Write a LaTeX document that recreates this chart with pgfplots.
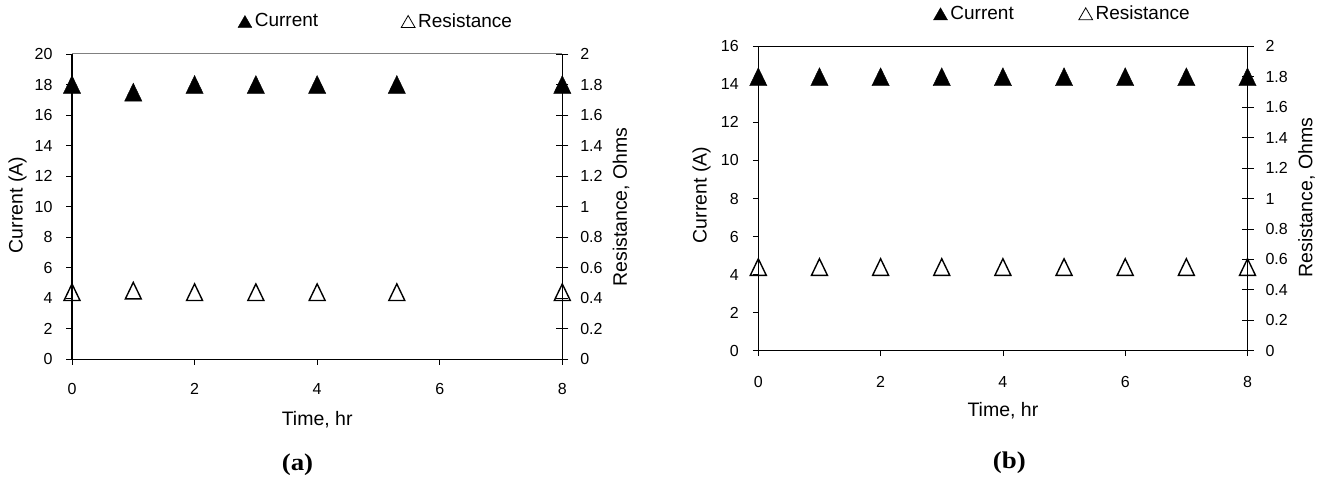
\documentclass[border=0pt]{standalone}
\usepackage{pgfplots}
\pgfplotsset{compat=1.18}
\usepackage{fontspec}
\setmainfont{Liberation Sans}
\newfontfamily\seriffont{Liberation Serif}

\pgfplotsset{
  base/.style={
    scale only axis, clip=false,
    font=\fontsize{16}{19}\selectfont,
    /pgf/number format/assume math mode=true,
    xmin=0, xmax=8,
    axis line style={black, line width=1.3pt, -},
    tick style={black, line width=0.8pt},
    label style={font=\fontsize{19.5}{23}\selectfont},
  },
  leftax/.style={
    base,
    axis x line*=bottom, axis y line*=left,
    tick align=outside,
    major tick length=5.5pt,
    xtick={0,2,4,6,8},
    yticklabel style={xshift=-10.5pt},
    xlabel={Time, hr},
    xlabel style={at={(axis description cs:0.5,-0.199)}, anchor=center},
  },
  rightax/.style={
    base,
    axis y line*=right, axis x line*=top,
    xtick=\empty,
    ymin=0, ymax=2,
    ytick={0,0.2,0.4,0.6,0.8,1,1.2,1.4,1.6,1.8,2},
    tick align=center, major tick length=12pt,
    yticklabel style={xshift=8.5pt},
    legend columns=2,
    legend style={draw=none, fill=none, font=\fontsize{19}{23}\selectfont,
      inner sep=0pt, outer sep=0pt, nodes={inner sep=1pt},
      /tikz/every odd column/.append style={column sep=2pt}},
    legend cell align=left,
    legend image code/.code={\draw[#1] plot coordinates {(7pt,-2.5pt)};},
  },
  curr/.style={only marks, mark=triangle*, mark size=10pt,
    mark options={black, fill=black, yshift=-3pt, yscale=1.2}},
  res/.style={only marks, mark=triangle, mark size=9.2pt,
    mark options={black, line width=1.4pt, fill=none, yshift=-2.8pt, yscale=1.2}},
  legc/.style={mark=triangle*, mark size=8pt, black, fill=black},
  legr/.style={mark=triangle, mark size=8pt, black, line width=0.8pt},
}

\begin{document}
\begin{tikzpicture}
\useasboundingbox (0,0) rectangle (1320pt,480pt);

% ---------- panel (a) ----------
\begin{axis}[leftax, at={(72pt,120.7pt)}, anchor=south west, width=490.3pt, height=305.3pt,
  ymin=0, ymax=20, ytick={0,2,4,6,8,10,12,14,16,18,20},
  xticklabel style={yshift=-15.2pt},
  ylabel={Current (A)},
  ylabel style={at={(axis description cs:-0.1112,0.505)}, anchor=center}]
  \addplot[curr] coordinates {(0,18) (1,17.5) (2,18) (3,18) (4,18) (5.3,18) (8,18)};
\end{axis}
\begin{axis}[rightax, at={(72pt,120.7pt)}, anchor=south west, width=490.3pt, height=305.3pt,
  x axis line style={black!50, line width=1pt},
  ylabel={Resistance, Ohms},
  ylabel style={at={(axis description cs:1.1197,0.499)}, anchor=center},
  legend style={at={(axis description cs:0.3386,1.108)}, anchor=west,
    /tikz/every even column/.append style={column sep=82pt}}]
  \addlegendimage{legc}
  \addlegendentry{Current}
  \addlegendimage{legr}
  \addlegendentry{Resistance}
  \addplot[res, forget plot] coordinates {(0,0.44) (1,0.45) (2,0.44) (3,0.44) (4,0.44) (5.3,0.44) (8,0.44)};
\end{axis}

% ---------- panel (b) ----------
\begin{axis}[leftax, at={(758.3pt,129.3pt)}, anchor=south west, width=489.2pt, height=304.4pt,
  ymin=0, ymax=16, ytick={0,2,4,6,8,10,12,14,16},
  ylabel={Current (A)},
  ylabel style={at={(axis description cs:-0.1161,0.5115)}, anchor=center},
  xticklabel style={yshift=-16.8pt},
  xlabel style={at={(axis description cs:0.5,-0.198)}, anchor=center}]
  \addplot[curr] coordinates {(0,14.4) (1,14.4) (2,14.4) (3,14.4) (4,14.4) (5,14.4) (6,14.4) (7,14.4) (8,14.4)};
\end{axis}
\begin{axis}[rightax, at={(758.3pt,129.3pt)}, anchor=south west, width=489.2pt, height=304.4pt,
  ylabel={Resistance, Ohms},
  ylabel style={at={(axis description cs:1.1206,0.503)}, anchor=center},
  legend style={at={(axis description cs:0.3583,1.1084)}, anchor=west,
    /tikz/every even column/.append style={column sep=64pt}}]
  \addlegendimage{legc}
  \addlegendentry{Current}
  \addlegendimage{legr}
  \addlegendentry{Resistance}
  \addplot[res, forget plot] coordinates {(0,0.55) (1,0.55) (2,0.55) (3,0.55) (4,0.55) (5,0.55) (6,0.55) (7,0.55) (8,0.55)};
\end{axis}

\node[font=\seriffont\bfseries\fontsize{24}{26}\selectfont] at (297.5pt,15pt) {\scalebox{1.12}[1]{(a)}};
\node[font=\seriffont\bfseries\fontsize{24}{26}\selectfont] at (1009.3pt,17pt) {\scalebox{1.12}[1]{(b)}};
\end{tikzpicture}
\end{document}
